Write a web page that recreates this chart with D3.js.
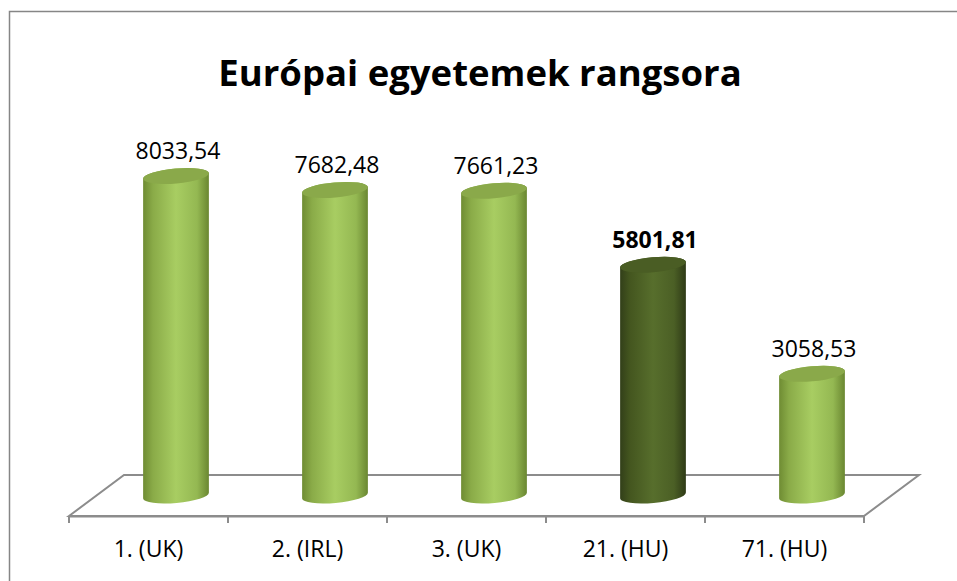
<!DOCTYPE html>
<html>
<head>
<meta charset="utf-8">
<script src="https://cdn.jsdelivr.net/npm/d3@7"></script>
<style>
    body { margin: 0; background: #fff; }
    text { font-family: "Open Sans", "Noto Sans", sans-serif; fill: #000; }
</style>
</head>
<body>
<div id="chart"></div>
<script>
// 0.data
var categories = ["1. (UK)", "2. (IRL)", "3. (UK)", "21. (HU)", "71. (HU)"];
var values = [8033.54, 7682.48, 7661.23, 5801.81, 3058.53];
var valueLabels = ["8033,54", "7682,48", "7661,23", "5801,81", "3058,53"];
var highlight = [false, false, false, true, false];
var title = "Európai egyetemek rangsora";

// 0.1.size
var svgW = 957, svgH = 581;
var floor = {left: 69, right: 864, front: 516, dx: 55, dy: 41};
var baseY = floor.front - floor.dy / 2;
var rx = 33, ry = 7.5, tilt = -5;

var svg = d3.select("#chart").append("svg").attr("width", svgW).attr("height", svgH);

// gradients for the cylinders
var defs = svg.append("defs");
function addGrad(id, stops) {
    var g = defs.append("linearGradient").attr("id", id)
        .attr("x1", "0%").attr("x2", "100%").attr("y1", "0%").attr("y2", "0%");
    stops.forEach(function (s) {
        g.append("stop").attr("offset", s[0]).attr("stop-color", s[1]);
    });
}
addGrad("gLight", [["0%", "#6f8c33"], ["15%", "#8aab48"], ["50%", "#a8cd62"], ["82%", "#94b852"], ["100%", "#6a8731"]]);
addGrad("gDark", [["0%", "#323f19"], ["15%", "#44561f"], ["50%", "#576e2c"], ["82%", "#4b5f25"], ["100%", "#2e3a16"]]);

// chart frame
svg.append("rect")
    .attr("x", 9.5).attr("y", 11.5)
    .attr("width", svgW).attr("height", svgH)
    .attr("fill", "none").attr("stroke", "#868686").attr("stroke-width", 1.5);

// 1.scales
var xScale = d3.scaleBand()
    .domain(categories)
    .range([floor.left, floor.right]);

var yScale = d3.scaleLinear()
    .domain([0, 9000])
    .range([baseY, baseY - 358]);

// 2.floor
svg.append("path")
    .attr("d", "M" + floor.left + "," + floor.front
        + "L" + (floor.left + floor.dx) + "," + (floor.front - floor.dy)
        + "L" + (floor.right + floor.dx) + "," + (floor.front - floor.dy)
        + "L" + floor.right + "," + floor.front + "Z")
    .attr("fill", "#fff")
    .attr("stroke", "#8c8c8c")
    .attr("stroke-width", 2);

// x axis, ticks on the band borders
var xAxis = d3.axisBottom(xScale).tickSize(0).tickPadding(25);
var gx = svg.append("g")
    .attr("transform", "translate(0," + floor.front + ")")
    .call(xAxis);
gx.select(".domain").attr("stroke", "#8c8c8c").attr("stroke-width", 2);
gx.selectAll("text")
    .style("font-size", "23px")
    .style("font-family", "\"Open Sans\", sans-serif")
    .attr("fill", "#000");

var borders = categories.map(function (d) { return xScale(d); }).concat([floor.right]);
gx.selectAll(".border")
    .data(borders)
    .enter().append("line")
    .attr("class", "border")
    .attr("x1", function (d) { return d; })
    .attr("x2", function (d) { return d; })
    .attr("y1", 0).attr("y2", 7)
    .attr("stroke", "#8c8c8c").attr("stroke-width", 2);

// 3.cylinders
function endPoint(cx, cy, side) {
    var a = tilt * Math.PI / 180;
    return [cx + side * rx * Math.cos(a), cy + side * rx * Math.sin(a)];
}

var bars = svg.selectAll(".bar")
    .data(values)
    .enter().append("g")
    .attr("class", "bar");

bars.each(function (d, i) {
    var g = d3.select(this);
    var cx = xScale(categories[i]) + xScale.bandwidth() / 2 + floor.dx / 2;
    var top = yScale(d);
    var lt = endPoint(cx, top, -1), rt = endPoint(cx, top, 1);
    var lb = endPoint(cx, baseY, -1), rb = endPoint(cx, baseY, 1);
    var dark = highlight[i];

    g.append("path")
        .attr("d", "M" + lt + "L" + lb
            + "A" + rx + "," + ry + " " + tilt + " 0 0 " + rb
            + "L" + rt
            + "A" + rx + "," + ry + " " + tilt + " 0 0 " + lt + "Z")
        .attr("fill", dark ? "url(#gDark)" : "url(#gLight)");

    g.append("ellipse")
        .attr("cx", cx).attr("cy", top)
        .attr("rx", rx).attr("ry", ry)
        .attr("transform", "rotate(" + tilt + "," + cx + "," + top + ")")
        .attr("fill", dark ? "#4a5d24" : "#8aa94a");

    g.append("text")
        .attr("x", cx + 2)
        .attr("y", top - 17)
        .attr("text-anchor", "middle")
        .style("font-size", "23px")
        .style("font-weight", dark ? "bold" : "normal")
        .text(valueLabels[i]);
});

// 4.title
svg.append("text")
    .attr("x", 480)
    .attr("y", 86)
    .attr("text-anchor", "middle")
    .style("font-size", "36.5px")
    .style("font-weight", "bold")
    .text(title);
</script>
</body>
</html>
